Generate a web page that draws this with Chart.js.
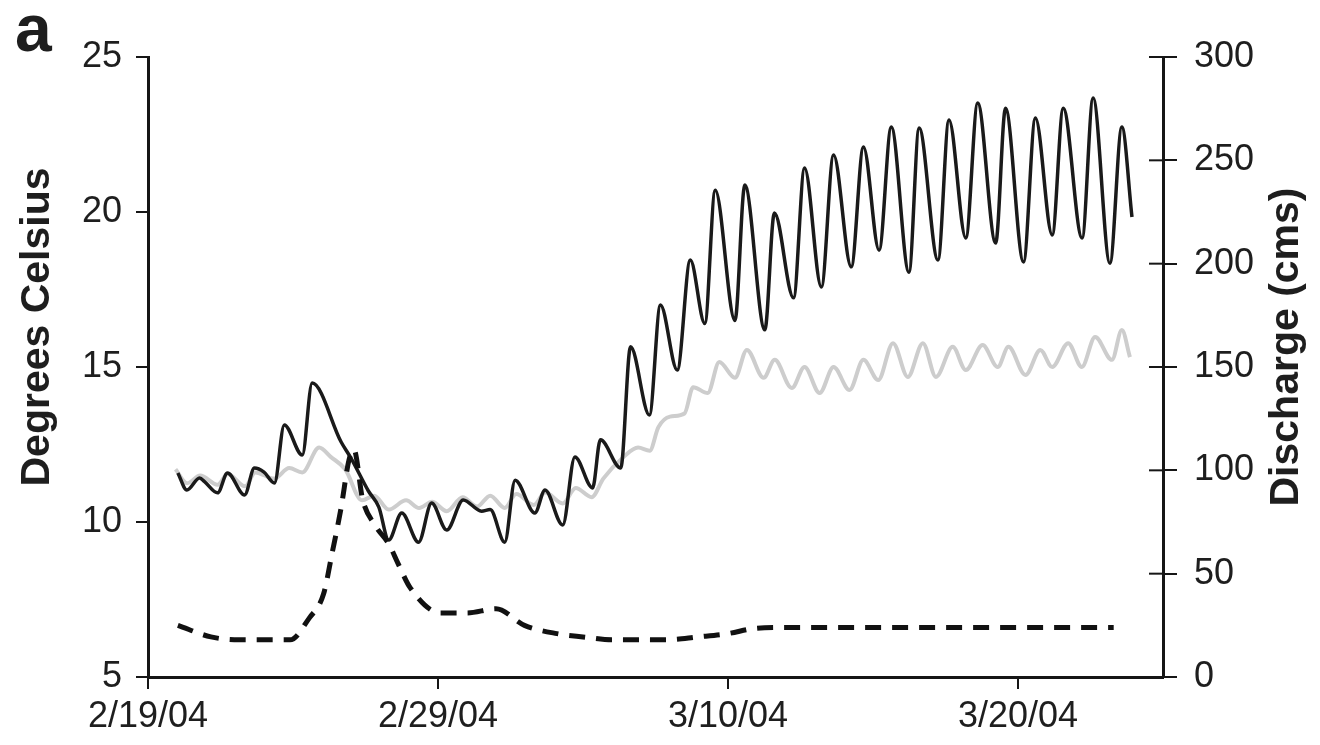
<!DOCTYPE html>
<html>
<head>
<meta charset="utf-8">
<script src="https://cdn.jsdelivr.net/npm/chart.js@4.4.1/dist/chart.umd.min.js"></script>
<style>
  html, body { margin: 0; padding: 0; background: #fff; }
  #wrap { width: 1320px; height: 745px; position: relative; }
</style>
</head>
<body>
<div id="wrap"><canvas id="chart"></canvas></div>
<script>
// x values are days after 2/19/04
const tickDays = [0, 10, 20, 30]
const tickLabels = ["2/19/04", "2/29/04", "3/10/04", "3/20/04"]

// dark line: stream temperature (deg C)
const darkDays = [1.03, 1.34, 1.78, 1.95, 2.40, 2.74, 3.33, 3.67, 4.00, 4.36, 4.70, 5.32, 5.66, 6.66, 7.00, 7.60, 7.96,
  8.30, 8.75, 9.33, 9.78, 10.30, 10.87, 11.50, 11.80, 12.30, 12.66, 13.34, 13.69, 14.30, 14.72, 15.33, 15.60, 16.30,
  16.64, 17.29, 17.67, 18.25, 18.70, 19.20, 19.56, 20.24, 20.58, 21.27, 21.60, 22.26, 22.64, 23.22, 23.64, 24.25,
  24.67, 25.21, 25.63, 26.24, 26.59, 27.24, 27.62, 28.20, 28.61, 29.23, 29.57, 30.19, 30.60, 31.18, 31.56, 32.21,
  32.59, 33.17, 33.58, 33.93]
const darkTemp = [11.58, 11.03, 11.42, 11.30, 10.94, 11.58, 10.87, 11.74, 11.61, 11.26, 13.13, 12.16, 14.48, 12.58, 12.06, 11.0, 10.48,
  9.42, 10.29, 9.35, 10.61, 9.74, 10.71, 10.35, 10.40, 9.35, 11.35, 10.29, 11.03, 9.90, 12.10, 11.10, 12.65, 11.74,
  15.65, 13.45, 17.00, 14.90, 18.45, 16.40, 20.70, 16.50, 20.87, 16.20, 19.97, 17.23, 21.42, 17.58, 21.84, 18.23,
  22.10, 18.77, 22.74, 18.06, 22.71, 18.45, 22.97, 19.16, 23.52, 19.00, 23.35, 18.39, 23.03, 19.26, 23.35, 19.16,
  23.68, 18.35, 22.74, 19.84]

// light line: second temperature record (deg C)
const lightDays = [0.95, 1.35, 1.80, 2.40, 2.75, 3.35, 3.70, 4.35, 4.87, 5.32, 5.90, 6.30, 6.80, 7.38, 7.80, 8.30, 8.90,
  9.35, 9.80, 10.30, 10.85, 11.35, 11.80, 12.30, 12.70, 13.30, 13.70, 14.30, 14.75, 15.30, 15.70, 16.40, 16.90, 17.30,
  17.60, 18.00, 18.50, 18.80, 19.30, 19.70, 20.24, 20.65, 21.23, 21.61, 22.20, 22.64, 23.16, 23.64, 24.19, 24.67,
  25.18, 25.69, 26.20, 26.72, 27.17, 27.75, 28.20, 28.78, 29.30, 29.67, 30.26, 30.77, 31.18, 31.73, 32.20, 32.66,
  33.24, 33.58, 33.86]
const lightTemp = [11.70, 11.25, 11.50, 11.20, 11.55, 11.15, 11.60, 11.40, 11.74, 11.60, 12.40, 12.10, 11.70, 10.70, 10.85, 10.40, 10.70,
  10.45, 10.65, 10.35, 10.80, 10.50, 10.85, 10.45, 10.90, 10.55, 10.95, 10.60, 11.10, 10.80, 11.40, 12.10, 12.40, 12.30,
  13.06, 13.40, 13.50, 14.35, 14.16, 15.16, 14.65, 15.55, 14.65, 15.23, 14.32, 15.00, 14.16, 15.00, 14.26, 15.23,
  14.58, 15.77, 14.68, 15.77, 14.68, 15.65, 14.90, 15.71, 15.00, 15.65, 14.74, 15.55, 15.00, 15.77, 15.00, 15.97,
  15.23, 16.19, 15.32]

// dashed line: discharge (cms), right axis
const flowDays = [1.03, 2.17, 3.14, 4.05, 4.90, 5.56, 6.05, 6.35, 6.66, 6.93, 7.10, 7.40, 7.85, 8.32, 8.62, 9.05, 10.09,
  11.00, 12.00, 12.98, 14.10, 15.00, 16.00, 16.90, 17.90, 18.96, 20.00, 20.90, 21.90, 22.90, 23.90, 24.90, 25.90,
  26.90, 27.90, 28.90, 29.90, 30.90, 31.90, 33.30]
const flowCms = [25, 19.4, 18, 18, 18, 28.5, 40, 60, 82, 105, 110, 86, 73, 64, 55, 43, 31,
  31, 33, 25, 21, 19.4, 18, 18, 18, 19.4, 21, 23.5, 24, 24, 24, 24, 24,
  24, 24, 24, 24, 24, 24, 24]

const toPoints = (xs, ys) => xs.map((x, i) => ({ x: x, y: ys[i] }))

const FONT = '"Liberation Sans", Arial, Helvetica, sans-serif'
const INK = '#161616'

// extra drawing: inner half of the right-hand ticks, rotated axis titles, panel letter
const extras = {
  id: 'extras',
  afterDraw(chart) {
    const ctx = chart.ctx
    const area = chart.chartArea
    const y2 = chart.scales.y2
    ctx.save()
    ctx.strokeStyle = INK
    ctx.lineWidth = 2
    y2.ticks.forEach(t => {
      const py = y2.getPixelForValue(t.value)
      ctx.beginPath()
      ctx.moveTo(area.right - 14, py)
      ctx.lineTo(area.right, py)
      ctx.stroke()
    })

    ctx.fillStyle = '#1e1e1e'
    ctx.textAlign = 'center'
    ctx.textBaseline = 'middle'
    ctx.font = 'bold 41px ' + FONT

    ctx.save()
    ctx.translate(area.left - 110, area.top + 270)
    ctx.rotate(-Math.PI / 2)
    ctx.fillText('Degrees Celsius', 0, 0)
    ctx.restore()

    ctx.save()
    ctx.translate(area.right + 124, area.top + 290)
    ctx.rotate(-Math.PI / 2)
    ctx.fillText('Discharge (cms)', 0, 0)
    ctx.restore()

    ctx.textAlign = 'left'
    ctx.textBaseline = 'alphabetic'
    ctx.font = 'bold 66px ' + FONT
    ctx.fillText('a', 15, 51)
    ctx.restore()
  }
}

new Chart(document.getElementById('chart'), {
  type: 'line',
  data: {
    datasets: [
      {
        label: 'Discharge',
        data: toPoints(flowDays, flowCms),
        yAxisID: 'y2',
        borderColor: '#111',
        borderWidth: 5,
        borderDash: [16, 11],
        cubicInterpolationMode: 'monotone',
        pointRadius: 0,
        fill: false
      },
      {
        label: 'Temperature',
        data: toPoints(darkDays, darkTemp),
        yAxisID: 'y',
        borderColor: '#1a1a1a',
        borderWidth: 3.5,
        cubicInterpolationMode: 'monotone',
        pointRadius: 0,
        fill: false
      },
      {
        label: 'Temperature 2',
        data: toPoints(lightDays, lightTemp),
        yAxisID: 'y',
        borderColor: '#cdcdcd',
        borderWidth: 4,
        cubicInterpolationMode: 'monotone',
        pointRadius: 0,
        fill: false
      }
    ]
  },
  options: {
    responsive: true,
    maintainAspectRatio: false,
    animation: false,
    layout: { padding: { top: 57, left: 0, right: 0, bottom: 0 } },
    plugins: { legend: { display: false }, tooltip: { enabled: false } },
    scales: {
      x: {
        type: 'linear',
        min: 0,
        max: 35,
        afterBuildTicks: scale => { scale.ticks = tickDays.map(v => ({ value: v })) },
        afterFit: scale => { scale.height = 68 },
        ticks: {
          autoSkip: false,
          maxRotation: 0,
          padding: 6,
          color: '#1e1e1e',
          font: { family: FONT, size: 36 },
          callback: v => tickLabels[tickDays.indexOf(v)]
        },
        grid: { drawOnChartArea: false, drawTicks: true, tickLength: 12, color: INK, lineWidth: 2 },
        border: { display: true, color: INK, width: 3 }
      },
      y: {
        position: 'left',
        min: 5,
        max: 25,
        afterFit: scale => { scale.width = 148 },
        ticks: {
          stepSize: 5,
          padding: 14,
          color: '#1e1e1e',
          font: { family: FONT, size: 36 }
        },
        grid: { drawOnChartArea: false, drawTicks: true, tickLength: 12, color: INK, lineWidth: 2 },
        border: { display: true, color: INK, width: 3 }
      },
      y2: {
        position: 'right',
        min: 0,
        max: 300,
        afterFit: scale => { scale.width = 157 },
        ticks: {
          stepSize: 50,
          padding: 17,
          color: '#1e1e1e',
          font: { family: FONT, size: 36 }
        },
        grid: { drawOnChartArea: false, drawTicks: true, tickLength: 14, color: INK, lineWidth: 2 },
        border: { display: true, color: INK, width: 3 }
      }
    }
  },
  plugins: [extras]
})
</script>
</body>
</html>
